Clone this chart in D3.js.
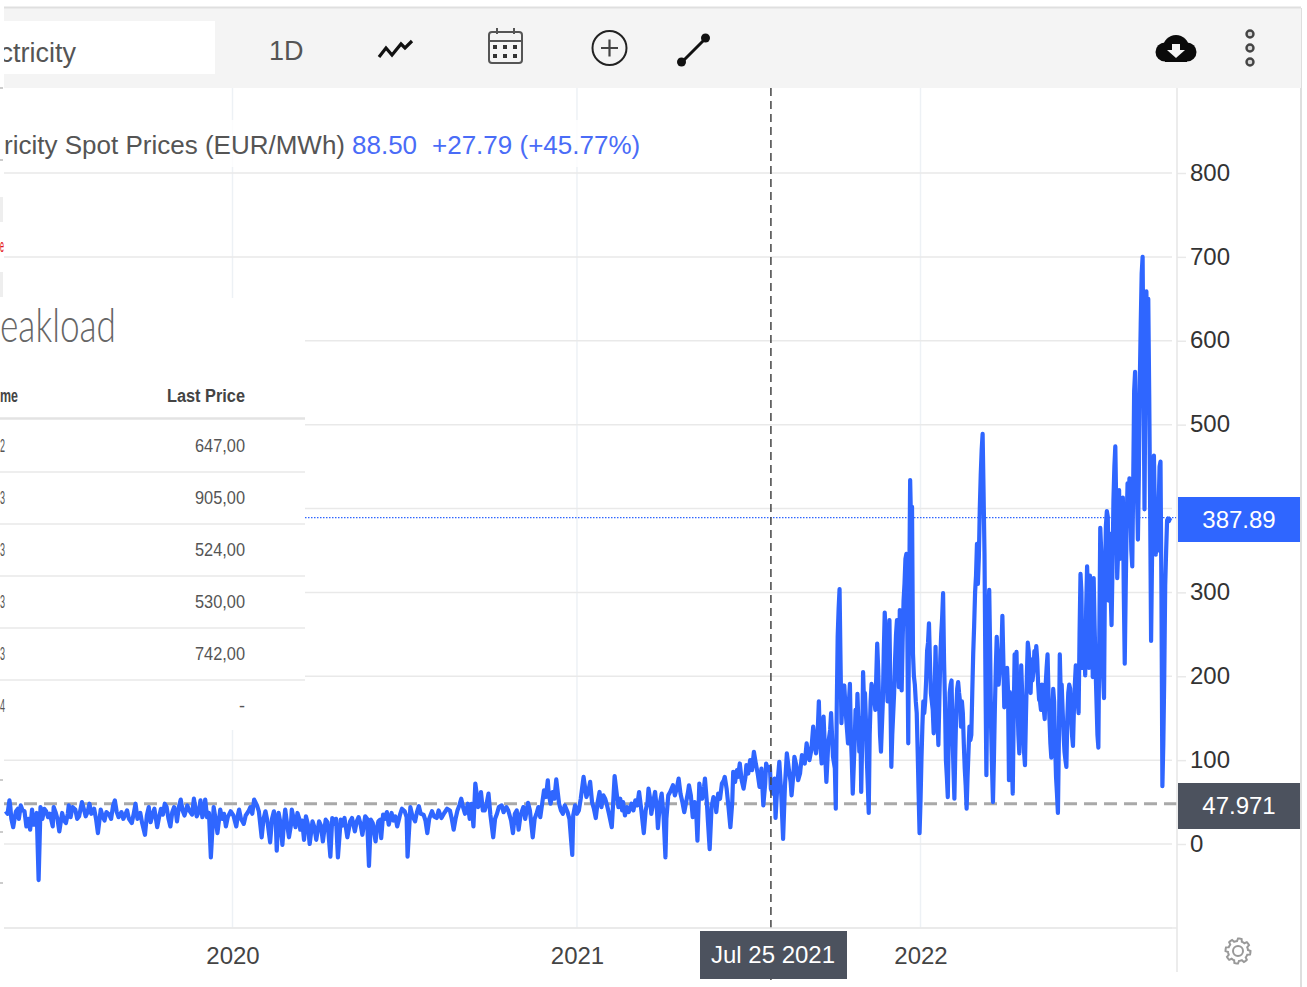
<!DOCTYPE html>
<html>
<head>
<meta charset="utf-8">
<title>Electricity Spot Prices</title>
<script src="https://cdn.jsdelivr.net/npm/d3@7"></script>
<style>
  html, body { margin: 0; background: #fff; }
  svg { display: block; }
  text { font-family: "Liberation Sans", Arial, sans-serif; }
</style>
</head>
<body>
<div id="chart"></div>
<script>
// days since 4 May 2019, daily price in EUR/MWh
// the turning points of the line
const priceSeries = [
  [1,39],[5,52],[6,44],[9,20],[12,39],[17,46],[21,39],[23,21],[27,17],[29,41],[31,23],[34,37],[36,-43],[38,44],[44,39],
  [51,21],[52,44],[58,15],[61,37],[65,25],[68,46],[75,41],[79,33],[82,50],[86,33],[90,48],[95,42],[99,13],[102,41],
  [106,28],[111,35],[117,52],[121,32],[128,35],[135,25],[139,48],[144,37],[149,11],[153,44],[157,35],[162,20],[166,42],
  [172,44],[176,21],[180,44],[183,27],[187,53],[194,46],[199,35],[201,54],[204,33],[208,52],[210,32],[213,53],[217,37],
  [219,-16],[222,44],[226,13],[229,41],[235,21],[240,39],[246,21],[249,41],[254,24],[259,39],[265,53],[270,39],[273,8],
  [277,39],[282,2],[286,39],[289,-8],[291,37],[295,-1],[298,41],[302,8],[305,41],[311,37],[314,17],[318,5],[320,33],
  [324,0],[327,27],[331,5],[334,27],[338,3],[341,29],[346,-15],[348,31],[354,-16],[357,29],[364,8],[367,27],[372,15],
  [376,32],[380,11],[383,33],[387,-26],[389,29],[394,3],[397,27],[400,7],[402,35],[408,23],[411,37],[417,21],[420,35],
  [425,39],[428,-15],[431,44],[436,27],[440,45],[445,35],[449,13],[454,39],[459,31],[464,31],[470,42],
  [473,40],[477,17],[481,40],[485,54],[489,36],[492,48],[498,21],[500,72],[503,44],[506,62],[510,40],[514,60],[519,8],
  [523,36],[528,46],[533,44],[540,13],[544,40],[546,17],[551,44],[556,49],[561,8],[565,36],[569,32],[573,64],[577,76],
  [580,48],[586,77],[589,48],[595,46],[603,-13],[606,46],[610,40],[615,80],[618,56],[622,74],[628,31],[632,62],[638,54],
  [645,20],[648,81],[654,54],[659,34],[666,48],[674,62],[679,13],[684,66],[687,36],[691,62],[694,19],[698,60],[702,-16],
  [705,58],[710,70],[716,78],[722,38],[727,70],[731,32],[736,4],[738,72],[744,78],[749,-6],[753,56],[756,38],[762,72],
  [765,80],[771,20],[774,86],[779,80],[781,96],[785,66],[788,94],[796,110],[800,84],[806,46],[809,96],[814,66],[819,31],
  [823,98],[827,6],[831,108],[836,58],[839,104],[845,84],[852,120],[855,100],[859,140],[862,108],[865,170],[868,96],
  [870,152],[873,74],[878,156],[880,104],[883,42],[885,247],[887,304],[889,144],[892,189],[896,120],[898,191],[901,60],
  [906,179],[910,62],[912,205],[915,148],[918,37],[921,191],[925,160],[927,239],[931,110],[935,276],[939,187],[940,267],
  [942,92],[948,267],[950,187],[951,279],[953,183],[958,346],[960,120],[962,434],[964,402],[965,227],[969,156],[972,13],
  [977,156],[979,195],[982,263],[987,132],[989,235],[992,118],[997,299],[1002,56],[1006,195],[1009,54],[1013,193],
  [1018,156],[1022,42],[1026,124],[1029,227],[1033,358],[1035,342],[1039,489],[1041,346],[1043,82],[1046,303],[1050,50],
  [1054,247],[1056,190],[1060,272],[1062,163],[1066,183],[1067,76],[1068,181],[1071,60],[1073,226],[1075,229],[1078,108],
  [1080,213],[1084,94],[1087,240],[1092,195],[1096,236],[1099,172],[1105,149],[1108,226],[1112,103],[1114,185],[1119,37],
  [1121,226],[1128,92],[1131,190],[1135,117],[1138,213],[1141,156],[1143,322],[1148,201],[1150,331],[1156,199],[1157,317],
  [1162,115],[1164,377],[1168,174],[1171,397],[1176,261],[1180,474],[1182,317],[1184,422],[1188,413],[1190,215],[1195,436],
  [1198,331],[1201,563],[1204,363],[1209,700],[1211,399],[1213,659],[1216,536],[1218,242],[1221,463],[1223,345],[1228,456],
  [1230,69],[1233,308],[1235,386],[1239,389]
];

// the days in between, estimated from the width of the band
const bandReadings = [
  [3,36],[7,30],[11,34],[14,42],[15,30],[19,40],[25,30],[33,27],[40,30],[42,42],[46,32],[48,36],[54,38],[56,30],[63,28],
  [67,36],[70,32],[72,44],[77,30],[84,42],[88,38],[92,36],[97,30],[104,33],[108,38],[113,30],[115,45],[119,38],[124,38],
  [126,30],[130,40],[132,30],[137,36],[141,30],[146,25],[151,34],[155,26],[159,42],[164,32],[168,35],[170,48],[174,30],
  [178,38],[182,36],[185,44],[189,40],[191,34],[196,40],[206,38],[212,40],[215,32],[224,30],[231,30],[233,36],[237,32],
  [243,34],[248,36],[251,30],[256,34],[261,44],[263,36],[268,46],[275,30],[279,28],[284,30],[288,26],[293,25],[297,30],
  [300,24],[304,22],[307,30],[309,20],[313,30],[316,28],[322,24],[329,20],[336,22],[343,26],[350,24],[352,30],[359,22],
  [361,31],[366,20],[369,31],[374,27],[378,24],[385,30],[391,25],[396,22],[399,29],[404,30],[406,38],[413,28],[415,33],
  [419,30],[422,42],[427,32],[433,34],[438,38],[442,36],[447,28],[451,30],[456,33],[461,40],[467,37],
  [475,30],[479,30],[483,46],[487,44],[491,42],[494,30],[496,48],[502,55],[505,48],[508,40],[512,48],[516,35],[521,30],
  [525,44],[530,38],[535,40],[538,28],[542,36],[548,34],[553,30],[558,40],[563,30],[567,44],[571,48],[575,56],[578,60],
  [582,62],[584,54],[591,40],[593,36],[598,38],[600,30],[604,34],[608,36],[612,54],[617,64],[620,62],[624,50],[626,42],
  [630,50],[634,44],[636,58],[640,46],[642,36],[647,60],[650,62],[652,44],[656,40],[657,50],[661,44],[663,38],[668,40],
  [670,52],[672,46],[676,44],[681,40],[683,50],[686,52],[689,50],[693,40],[696,48],[700,34],[703,30],[707,62],[712,58],
  [714,66],[718,60],[720,50],[724,50],[726,62],[729,58],[733,50],[735,30],[739,64],[741,54],[743,68],[746,50],[747,30],
  [751,44],[755,50],[758,60],[760,54],[764,76],[767,66],[769,44],[773,50],[776,74],[778,88],[783,76],[787,80],[790,84],
  [792,100],[794,88],[798,96],[802,68],[804,90],[808,72],[811,88],[813,92],[816,60],[818,78],[821,72],[825,60],[829,70],
  [833,90],[835,74],[838,84],[841,94],[843,76],[847,106],[850,96],[857,112],[860,124],[864,140],[866,128],[869,130],
  [872,100],[875,120],[877,136],[882,90],[884,160],[886,280],[888,220],[890,170],[891,172],[894,150],[897,170],[899,130],
  [900,100],[903,120],[904,160],[905,130],[908,110],[909,150],[911,120],[913,170],[914,180],[916,100],[917,70],[919,130],
  [920,170],[923,180],[924,170],[926,200],[928,210],[929,170],[930,130],[933,170],[934,230],[936,250],[937,200],[938,170],
  [941,180],[943,130],[945,180],[946,220],[947,250],[949,230],[952,230],[954,240],[955,290],[956,310],[957,340],[959,250],
  [961,300],[963,380],[966,200],[967,190],[968,170],[970,110],[971,60],[973,50],[974,100],[975,140],[976,170],[978,170],
  [980,230],[981,240],[983,220],[984,180],[985,170],[986,160],[988,180],[990,180],[991,150],[993,170],[994,220],[995,250],
  [996,270],[998,220],[999,170],[1000,100],[1001,80],[1003,130],[1004,180],[1005,190],[1007,130],[1008,90],[1010,110],
  [1011,160],[1012,185],[1014,180],[1015,170],[1016,140],[1017,170],[1019,120],[1020,90],[1021,70],[1023,80],[1024,110],
  [1025,140],[1027,130],[1028,180],[1030,260],[1031,300],[1032,320],[1034,310],[1036,400],[1037,440],[1038,470],[1040,420],
  [1042,200],[1044,190],[1045,270],[1047,230],[1048,140],[1049,90],[1051,100],[1052,160],[1053,210],[1055,220],[1058,220],
  [1059,230],[1061,220],[1063,200],[1064,180],[1065,210],[1069,140],[1070,100],[1072,150],[1074,210],[1076,170],[1077,130],
  [1079,150],[1081,180],[1082,140],[1083,110],[1085,150],[1086,200],[1088,230],[1089,210],[1090,180],[1091,220],[1093,205],
  [1094,230],[1095,215],[1097,220],[1098,190],[1100,170],[1101,160],[1102,190],[1103,170],[1104,160],[1106,190],[1107,210],
  [1109,180],[1110,150],[1111,120],[1113,140],[1115,170],[1116,120],[1117,80],[1118,60],[1120,120],[1122,180],[1123,190],
  [1124,160],[1125,130],[1126,110],[1127,100],[1129,150],[1130,180],[1132,185],[1133,150],[1134,130],[1136,160],[1137,190],
  [1139,195],[1140,170],[1142,250],[1144,300],[1145,210],[1146,260],[1147,240],[1149,280],[1151,300],[1152,210],[1153,320],
  [1154,230],[1155,300],[1158,260],[1159,210],[1160,170],[1161,130],[1163,250],[1165,350],[1166,250],[1167,200],[1169,320],
  [1170,380],[1172,390],[1173,290],[1174,370],[1175,300],[1177,330],[1178,410],[1179,450],[1181,400],[1183,350],[1185,340],
  [1186,400],[1187,360],[1189,300],[1191,300],[1192,380],[1193,430],[1194,400],[1196,400],[1197,350],[1199,430],[1200,540],
  [1202,500],[1203,420],[1205,440],[1206,550],[1207,620],[1208,680],[1210,550],[1212,560],[1214,600],[1215,650],[1217,400],
  [1219,340],[1220,420],[1222,400],[1224,400],[1225,350],[1226,400],[1227,450],[1229,300],[1231,120],[1232,200],[1234,350],
  [1236,388],[1237,385],[1238,388]
];

const seriesStart = new Date(2019, 4, 4);
const yearTicks = [new Date(2020, 0, 1), new Date(2021, 0, 1), new Date(2022, 0, 1)];
const priceTicks = [0, 100, 200, 300, 500, 600, 700, 800];
const gridValues = [-100, 0, 100, 200, 300, 400, 500, 600, 700, 800];
const lastPrice = 387.89;
const averagePrice = 47.971;
const crosshairDate = new Date(2021, 6, 25);

const tableTitle = 'eakload';
const tableHeaders = ['me', 'Last Price'];
const tableExpiry = ['2', '3', '3', '3', '3', '4'];
const tablePrices = ['647,00', '905,00', '524,00', '530,00', '742,00', '-'];

const width = 1307;
const height = 987;
const plot = { left: 4, right: 1177, top: 88, bottom: 928 };

const x = d3.scaleTime()
  .domain([yearTicks[0], yearTicks[2]])
  .range([232.5, 920.5]);
const y = d3.scaleLinear()
  .domain([0, 800])
  .range([844, 173]);

const svg = d3.select('#chart').append('svg')
  .attr('width', width)
  .attr('height', height);

svg.append('defs').append('clipPath').attr('id', 'stripClip').append('rect')
  .attr('x', 4).attr('y', 0).attr('width', width).attr('height', height);

// Gridlines
svg.append('g').selectAll('line').data(yearTicks).enter().append('line')
  .attr('x1', (d) => x(d)).attr('x2', (d) => x(d))
  .attr('y1', plot.top).attr('y2', plot.bottom)
  .style('stroke', '#edf1f5').style('stroke-width', 1.5);
svg.append('g').selectAll('line').data(gridValues).enter().append('line')
  .attr('x1', plot.left).attr('x2', 1172)
  .attr('y1', (d) => y(d)).attr('y2', (d) => y(d))
  .style('stroke', '#e9e9e9').style('stroke-width', 1.5);

// Averages and last price
svg.append('line')
  .attr('x1', plot.left).attr('x2', plot.right)
  .attr('y1', y(averagePrice)).attr('y2', y(averagePrice))
  .style('stroke', '#a9a9a9').style('stroke-width', 3).style('stroke-dasharray', '13,7');
svg.append('line')
  .attr('x1', 305).attr('x2', plot.right)
  .attr('y1', y(lastPrice) - 1).attr('y2', y(lastPrice) - 1)
  .style('stroke', '#2f66ff').style('stroke-width', 1.3).style('stroke-dasharray', '1.5,1.5');

// Price line
const allReadings = d3.sort(priceSeries.concat(bandReadings), (d) => d[0]);
const priceLine = d3.line()
  .x((d) => x(d3.timeDay.offset(seriesStart, d[0])))
  .y((d) => y(d[1]));
svg.append('path')
  .datum(allReadings)
  .attr('clip-path', 'url(#stripClip)')
  .attr('d', priceLine)
  .style('fill', 'none')
  .style('stroke', '#2f66ff')
  .style('stroke-width', 4.2)
  .style('stroke-linejoin', 'round');

// Crosshair
svg.append('line')
  .attr('x1', x(crosshairDate) + 1).attr('x2', x(crosshairDate) + 1)
  .attr('y1', plot.top).attr('y2', 983)
  .style('stroke', '#444').style('stroke-width', 1.5).style('stroke-dasharray', '8,5');

// Axes
const yAxis = d3.axisRight(y).tickValues(priceTicks).tickSize(9).tickPadding(4);
const yG = svg.append('g').attr('transform', `translate(${plot.right},0)`).call(yAxis);
yG.select('.domain').remove();
yG.selectAll('.tick line').style('stroke', '#e9e9e9').style('stroke-width', 1.5);
yG.selectAll('.tick text')
  .attr('y', -0.5)
  .style('font-family', '"Liberation Sans", sans-serif')
  .style('font-size', '24px').style('fill', '#333');

const xAxis = d3.axisBottom(x).tickValues(yearTicks).tickSize(0).tickPadding(19)
  .tickFormat(d3.timeFormat('%Y'));
const xG = svg.append('g').attr('transform', `translate(0,${plot.bottom})`).call(xAxis);
xG.select('.domain').remove();
xG.selectAll('.tick text')
  .style('font-family', '"Liberation Sans", sans-serif')
  .style('font-size', '24px').style('fill', '#444');

svg.append('line').attr('x1', plot.right).attr('x2', plot.right).attr('y1', plot.top).attr('y2', 972)
  .style('stroke', '#e6e6e6').style('stroke-width', 1.5);
svg.append('line').attr('x1', 1301).attr('x2', 1301).attr('y1', 8).attr('y2', height)
  .style('stroke', '#dedede').style('stroke-width', 2);
svg.append('line').attr('x1', plot.left).attr('x2', plot.right).attr('y1', plot.bottom).attr('y2', plot.bottom)
  .style('stroke', '#e9e9e9').style('stroke-width', 1.5);

// Price and date labels
function priceTag(top, tagHeight, fill, label) {
  svg.append('rect').attr('x', 1178).attr('y', top).attr('width', 122).attr('height', tagHeight).style('fill', fill);
  svg.append('text').attr('x', 1239).attr('y', top + tagHeight / 2 + 8)
    .attr('text-anchor', 'middle')
    .style('font-size', '24px').style('fill', '#fff')
    .text(label);
}
priceTag(497, 45, '#2f66ff', d3.format('.2f')(lastPrice));
priceTag(783, 46, '#4c525e', d3.format('.3f')(averagePrice));

svg.append('rect').attr('x', 700).attr('y', 931).attr('width', 147).attr('height', 48).style('fill', '#4c525e');
svg.append('text').attr('x', 773).attr('y', 963)
  .attr('text-anchor', 'middle')
  .style('font-size', '24px').style('fill', '#fff')
  .text(d3.timeFormat('%b %d %Y')(crosshairDate));

// Toolbar
svg.append('rect').attr('x', plot.left).attr('y', 8).attr('width', 1297).attr('height', 80).style('fill', '#f4f4f4');
svg.append('line').attr('x1', plot.left).attr('x2', 1301).attr('y1', 7.5).attr('y2', 7.5)
  .style('stroke', '#dfdfdf').style('stroke-width', 2);
svg.append('rect').attr('x', plot.left).attr('y', 21).attr('width', 211).attr('height', 53).style('fill', '#fff');
svg.append('text').attr('x', 76).attr('y', 62).attr('text-anchor', 'end')
  .style('font-size', '27px').style('fill', '#555').text('ctricity');
svg.append('rect').attr('x', 0).attr('y', 21).attr('width', 4).attr('height', 53).style('fill', '#fff');
svg.append('text').attr('x', 269).attr('y', 60)
  .style('font-size', '27px').style('fill', '#555').text('1D');

// Toolbar icons
svg.append('path').attr('d', 'M379,57 L386,48 L392,55 L401,44 L405,48 L412,41')
  .style('fill', 'none').style('stroke', '#111').style('stroke-width', 3.2);
const cal = svg.append('g').style('fill', 'none').style('stroke', '#555').style('stroke-width', 2);
cal.append('rect').attr('x', 489).attr('y', 32).attr('width', 33).attr('height', 31).attr('rx', 3);
cal.append('path').attr('d', 'M489,41 H522 M497,28 V34 M514,28 V34');
const calDots = svg.append('g').style('fill', '#333');
[495, 505, 515].forEach((cx) => [47, 56].forEach((cy) => {
  calDots.append('rect').attr('x', cx - 2).attr('y', cy - 2).attr('width', 4).attr('height', 4);
}));
svg.append('circle').attr('cx', 609.5).attr('cy', 48).attr('r', 17)
  .style('fill', 'none').style('stroke', '#222').style('stroke-width', 2);
svg.append('path').attr('d', 'M601,48 H618 M609.5,39.5 V56.5')
  .style('fill', 'none').style('stroke', '#444').style('stroke-width', 2.2);
svg.append('path').attr('d', 'M681,63 L706,38').style('stroke', '#111').style('stroke-width', 3);
svg.append('circle').attr('cx', 681.5).attr('cy', 62).attr('r', 4.5).style('fill', '#111');
svg.append('circle').attr('cx', 705.5).attr('cy', 38).attr('r', 4.5).style('fill', '#111');

const cloud = svg.append('g').style('fill', '#0a0a0a');
cloud.append('circle').attr('cx', 1176).attr('cy', 48).attr('r', 13);
cloud.append('circle').attr('cx', 1165).attr('cy', 52).attr('r', 9.5);
cloud.append('circle').attr('cx', 1187).attr('cy', 52).attr('r', 9.5);
cloud.append('rect').attr('x', 1165).attr('y', 50).attr('width', 22).attr('height', 12);
svg.append('path').attr('d', 'M1172,44 H1180 V50 H1185 L1176,58 L1167,50 H1172 Z').style('fill', '#f4f4f4');
[34, 48, 62].forEach((cy) => {
  svg.append('circle').attr('cx', 1250).attr('cy', cy).attr('r', 3.5)
    .style('fill', '#d8d8d8').style('stroke', '#444').style('stroke-width', 2.4);
});

// Legend line
svg.append('rect').attr('x', plot.left).attr('y', 120).attr('width', 636).attr('height', 47)
  .style('fill', '#fff').style('opacity', 0.8);
svg.append('text').attr('x', 345).attr('y', 154).attr('text-anchor', 'end')
  .style('font-size', '26px').style('fill', '#555').text('ricity Spot Prices (EUR/MWh)');
svg.append('text').attr('x', 352).attr('y', 154)
  .style('font-size', '26px').style('fill', '#4a6cf7').text('88.50');
svg.append('text').attr('x', 432).attr('y', 154)
  .style('font-size', '26px').style('fill', '#4a6cf7').text('+27.79 (+45.77%)');

// Table overlay
svg.append('rect').attr('x', 0).attr('y', 298).attr('width', 305).attr('height', 432).style('fill', '#fff');
svg.append('text').attr('x', 0).attr('y', 342)
  .attr('textLength', 116).attr('lengthAdjust', 'spacingAndGlyphs')
  .style('font-family', 'Lato, sans-serif').style('font-weight', 300)
  .style('font-size', '48px').style('fill', '#666').text(tableTitle);
svg.append('text').attr('x', 0).attr('y', 402)
  .attr('textLength', 18).attr('lengthAdjust', 'spacingAndGlyphs')
  .style('font-size', '18px').style('font-weight', 'bold').style('fill', '#444').text(tableHeaders[0]);
svg.append('text').attr('x', 167).attr('y', 402)
  .attr('textLength', 78).attr('lengthAdjust', 'spacingAndGlyphs')
  .style('font-size', '18px').style('font-weight', 'bold').style('fill', '#444').text(tableHeaders[1]);
svg.append('line').attr('x1', 0).attr('x2', 305).attr('y1', 418.5).attr('y2', 418.5)
  .style('stroke', '#e3e3e3').style('stroke-width', 2.5);

const rows = svg.append('g').selectAll('g').data(tablePrices).enter().append('g')
  .attr('transform', (d, i) => `translate(0,${446 + i * 52})`);
rows.append('text').attr('x', 0).attr('y', 6)
  .attr('textLength', 5).attr('lengthAdjust', 'spacingAndGlyphs')
  .style('font-size', '18px').style('fill', '#555').text((d, i) => tableExpiry[i]);
rows.filter((d) => d !== '-').append('text').attr('x', 195).attr('y', 6)
  .attr('textLength', 50).attr('lengthAdjust', 'spacingAndGlyphs')
  .style('font-size', '18px').style('fill', '#555').text((d) => d);
rows.filter((d) => d === '-').append('text').attr('x', 245).attr('y', 6).attr('text-anchor', 'end')
  .style('font-size', '18px').style('fill', '#555').text((d) => d);
rows.filter((d, i) => i < 5).append('line')
  .attr('x1', 0).attr('x2', 305).attr('y1', 26).attr('y2', 26)
  .style('stroke', '#e9e9e9').style('stroke-width', 1.5);

// Left strip
svg.append('rect').attr('x', 0).attr('y', 197).attr('width', 3).attr('height', 25).style('fill', '#eee');
svg.append('rect').attr('x', 0).attr('y', 272).attr('width', 3).attr('height', 25).style('fill', '#eee');
svg.append('text').attr('x', 0).attr('y', 252)
  .attr('textLength', 4).attr('lengthAdjust', 'spacingAndGlyphs')
  .style('font-size', '18px').style('fill', '#e3121b').text('e');
[88, 160, 780, 832, 883].forEach((tickY) => {
  svg.append('line').attr('x1', 0).attr('x2', 3).attr('y1', tickY).attr('y2', tickY)
    .style('stroke', '#999').style('stroke-width', 1);
});

// Settings gear
const gearRadii = d3.range(0, 64).map((i) => {
  const tooth = Math.floor(i / 4) % 2 === 0;
  return [i * Math.PI * 2 / 64, tooth ? 12.5 : 10];
});
const gear = svg.append('g').attr('transform', 'translate(1238,951)')
  .style('fill', 'none').style('stroke', '#999').style('stroke-width', 2);
gear.append('path').attr('d', d3.lineRadial().curve(d3.curveLinearClosed)(gearRadii));
gear.append('circle').attr('r', 5);
</script>
</body>
</html>
